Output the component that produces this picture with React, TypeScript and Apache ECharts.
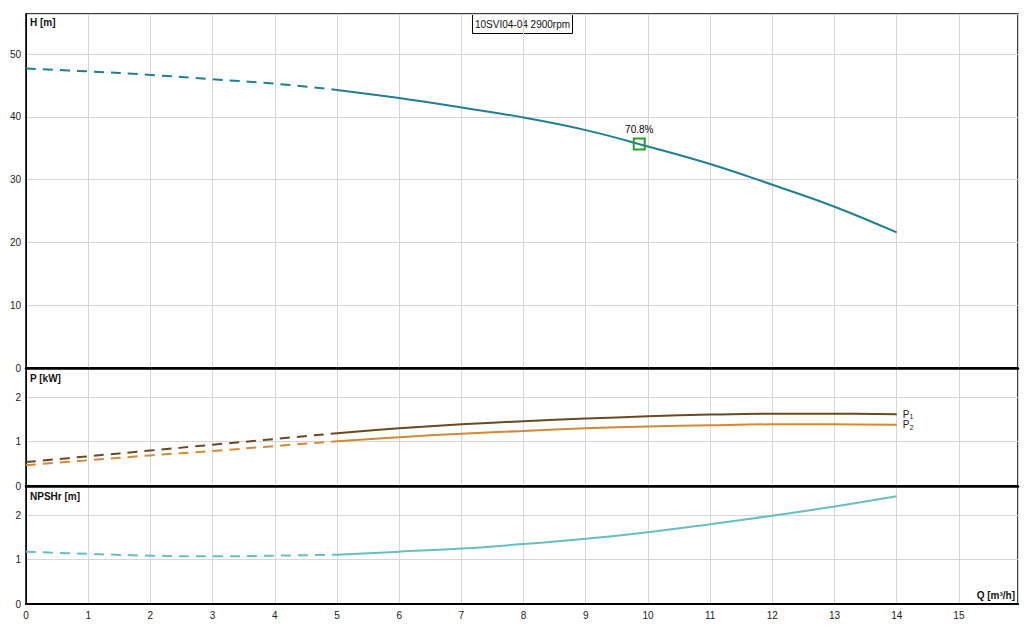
import React, { useEffect, useRef } from "react";
import * as echarts from "echarts";

const qDashed = [0, 1, 2, 3, 4, 5];
const qSolid = [5, 6, 7, 8, 9, 10, 11, 12, 13, 14];

const headDashed = [47.7, 47.25, 46.7, 46.0, 45.3, 44.3];
const headSolid = [44.3, 43.0, 41.5, 39.9, 37.9, 35.3, 32.5, 29.2, 25.7, 21.6];

const p1Dashed = [0.54, 0.67, 0.8, 0.93, 1.06, 1.19];
const p1Solid = [1.19, 1.3, 1.39, 1.46, 1.52, 1.57, 1.61, 1.63, 1.63, 1.62];

const p2Dashed = [0.47, 0.58, 0.69, 0.79, 0.9, 1.01];
const p2Solid = [1.01, 1.1, 1.18, 1.24, 1.3, 1.34, 1.37, 1.39, 1.39, 1.38];

const npshDashed = [1.18, 1.13, 1.09, 1.075, 1.09, 1.11];
const npshSolid = [1.11, 1.18, 1.25, 1.35, 1.47, 1.62, 1.8, 1.99, 2.2, 2.43];

const dutyPoint = [9.86, 35.7];
const dutyLabel = "70.8%";
const title = "10SVI04-04 2900rpm";

const FONT = "Liberation Sans, Arial, sans-serif";
const H_COLOR = "#1f7f97";
const P1_COLOR = "#6b4a22";
const P2_COLOR = "#d38a35";
const NPSH_COLOR = "#66bfc4";

const zip = (xs: number[], ys: number[]) => xs.map((x, i) => [x, ys[i]]);

export default function App() {
  const ref = useRef<HTMLDivElement>(null);

  useEffect(() => {
    document.body.style.margin = "0";
    const chart = echarts.init(ref.current!, undefined, { renderer: "svg" });

    const L = 26;
    const R = 1032 - 1018;
    const tops = [14, 368, 486];
    const heights = [354, 118, 118];

    const intLabel = (step: number) => (v: number) =>
      Math.abs(v / step - Math.round(v / step)) < 1e-6 ? String(v) : "";

    const xAxisBase = (idx: number, showLabel: boolean) => ({
      type: "value",
      gridIndex: idx,
      min: 0,
      max: 15.95,
      interval: 1,
      axisLine: { show: true, onZero: false, lineStyle: { color: "#000", width: idx === 2 ? 2 : 2.5 } },
      axisTick: { show: false },
      axisLabel: {
        show: showLabel,
        color: "#222",
        fontSize: 10,
        fontFamily: FONT,
        margin: 6,
        formatter: intLabel(1),
      },
      splitLine: { show: true, lineStyle: { color: "#d6d6d6", width: 1 } },
    });

    const yAxisBase = (idx: number, max: number, interval: number) => ({
      type: "value",
      gridIndex: idx,
      min: 0,
      max,
      interval,
      axisLine: { show: true, lineStyle: { color: "#000", width: 1 } },
      axisTick: { show: false },
      axisLabel: {
        color: "#222",
        fontSize: 10,
        fontFamily: FONT,
        margin: 5,
        formatter: intLabel(interval),
      },
      splitLine: { show: true, lineStyle: { color: "#d6d6d6", width: 1 } },
    });

    const lineSeries = (
      xi: number,
      data: number[][],
      color: string,
      dashed: boolean,
      extra: any = {}
    ) => ({
      type: "line",
      xAxisIndex: xi,
      yAxisIndex: xi,
      data,
      smooth: 0.4,
      symbol: "none",
      lineStyle: { color, width: 2, type: dashed ? [10, 7] : "solid" },
      silent: true,
      ...extra,
    });

    const pEnd = (sub: string) => ({
      endLabel: {
        show: true,
        formatter: `{a|P}{b|${sub}}`,
        distance: 6,
        rich: {
          a: { fontSize: 10, color: "#222", fontFamily: FONT },
          b: { fontSize: 7, color: "#222", fontFamily: FONT, padding: [5, 0, 0, 0] },
        },
      },
    });

    chart.setOption({
      animation: false,
      backgroundColor: "#fff",
      grid: tops.map((t, i) => ({
        left: L,
        right: R,
        top: t,
        height: heights[i],
        show: true,
        borderColor: "#000",
        borderWidth: 1.5,
        backgroundColor: "transparent",
      })),
      xAxis: [xAxisBase(0, false), xAxisBase(1, false), xAxisBase(2, true)],
      yAxis: [yAxisBase(0, 56.4, 10), yAxisBase(1, 2.66, 1), yAxisBase(2, 2.66, 1)],
      series: [
        lineSeries(0, zip(qDashed, headDashed), H_COLOR, true),
        lineSeries(0, zip(qSolid, headSolid), H_COLOR, false),
        {
          type: "scatter",
          xAxisIndex: 0,
          yAxisIndex: 0,
          data: [dutyPoint],
          symbol: "rect",
          symbolSize: 11,
          itemStyle: { color: "rgba(0,0,0,0)", borderColor: "#22a322", borderWidth: 2, opacity: 1 },
          label: {
            show: true,
            position: "top",
            distance: 3,
            formatter: dutyLabel,
            color: "#000",
            fontSize: 10,
            fontFamily: FONT,
          },
          emphasis: { disabled: true },
          silent: true,
          z: 5,
        },
        lineSeries(1, zip(qDashed, p1Dashed), P1_COLOR, true),
        lineSeries(1, zip(qSolid, p1Solid), P1_COLOR, false, pEnd("1")),
        lineSeries(1, zip(qDashed, p2Dashed), P2_COLOR, true),
        lineSeries(1, zip(qSolid, p2Solid), P2_COLOR, false, pEnd("2")),
        lineSeries(2, zip(qDashed, npshDashed), NPSH_COLOR, true),
        lineSeries(2, zip(qSolid, npshSolid), NPSH_COLOR, false),
      ],
      graphic: [
        {
          type: "text",
          left: 30,
          top: 17,
          style: { text: "H [m]", font: `bold 10px ${FONT}`, fill: "#111" },
          z: 10,
        },
        {
          type: "text",
          left: 30,
          top: 373,
          style: { text: "P [kW]", font: `bold 10px ${FONT}`, fill: "#111" },
          z: 10,
        },
        {
          type: "text",
          left: 30,
          top: 491,
          style: { text: "NPSHr [m]", font: `bold 10px ${FONT}`, fill: "#111" },
          z: 10,
        },
        {
          type: "text",
          right: 1032 - 1015,
          top: 590,
          style: { text: "Q [m³/h]", font: `bold 10px ${FONT}`, fill: "#111" },
          z: 10,
        },
        {
          type: "group",
          left: 472,
          top: 14,
          z: 10,
          children: [
            {
              type: "rect",
              shape: { x: 0, y: 0, width: 100, height: 19 },
              style: { fill: "#fff", stroke: "#000", lineWidth: 1 },
            },
            {
              type: "text",
              x: 50,
              y: 10,
              style: {
                text: title,
                font: `10px ${FONT}`,
                fill: "#111",
                align: "center",
                verticalAlign: "middle",
              },
            },
          ],
        },
      ],
    });

    return () => chart.dispose();
  }, []);

  return <div ref={ref} style={{ width: 1032, height: 629 }} />;
}
